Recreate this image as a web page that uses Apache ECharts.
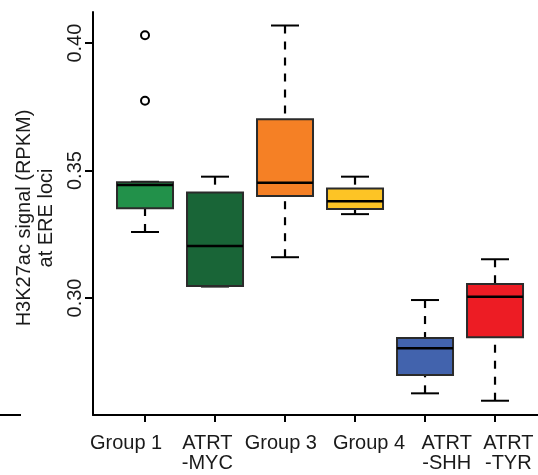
<!DOCTYPE html>
<html>
<head>
<meta charset="utf-8">
<script src="https://cdn.jsdelivr.net/npm/echarts@6/dist/echarts.min.js"></script>
<style>
  html, body { margin: 0; padding: 0; background: #fff; }
  #chart { width: 538px; height: 475px; }
</style>
</head>
<body>
<div id="chart"></div>
<script>
// Groups along the x axis
const groups = ['Group 1', 'ATRT\n-MYC', 'Group 3', 'Group 4', 'ATRT\n-SHH', 'ATRT\n-TYR'];

// Box statistics per group (H3K27ac RPKM at ERE loci)
const lowWhisker  = [0.3259, 0.3045, 0.3160, 0.3329, 0.2626, 0.2597];
const q1          = [0.3352, 0.3047, 0.3400, 0.3349, 0.2698, 0.2846];
const median      = [0.3443, 0.3204, 0.3452, 0.3380, 0.2803, 0.3005];
const q3          = [0.3454, 0.3414, 0.3701, 0.3430, 0.2843, 0.3055];
const highWhisker = [0.3456, 0.3476, 0.4069, 0.3476, 0.2992, 0.3152];

// Outliers: group index and value
const outlierGroup = [0, 0];
const outlierValue = [0.4031, 0.3774];

// Y tick labels
const yTicks = [0.30, 0.35, 0.40];

// Styling
const fills = ['#22914a', '#196537', '#f58025', '#fdc425', '#4263ad', '#ed1c24'];
const labelNudge = [-0.27, -0.11, -0.06, 0.20, 0.31, 0.19];
const FONT = '"Liberation Sans", Arial, Helvetica, sans-serif';
const TEXT = '#1a1a1a';

const boxData = groups.map((g, i) => [i, lowWhisker[i], q1[i], median[i], q3[i], highWhisker[i]]);
const outlierData = outlierGroup.map((g, i) => [g, outlierValue[i]]);

const chart = echarts.init(document.getElementById('chart'), null, { renderer: 'canvas' });

chart.setOption({
  animation: false,
  backgroundColor: '#fff',
  grid: { left: 93, right: 0, top: 12, bottom: 60, outerBoundsMode: 'none', containLabel: false },
  xAxis: {
    type: 'value',
    min: -0.743,
    max: 5.614,
    splitLine: { show: false },
    axisLine: { show: true, onZero: false, lineStyle: { color: '#000', width: 2 } },
    axisTick: {
      show: true, length: 7,
      customValues: groups.map((g, i) => i),
      lineStyle: { color: '#000', width: 2 }
    },
    axisLabel: {
      customValues: groups.map((g, i) => i + labelNudge[i]),
      formatter: v => groups[Math.round(v)],
      fontFamily: FONT, fontSize: 20, color: TEXT,
      lineHeight: 19.5, margin: 19, align: 'center'
    }
  },
  yAxis: {
    type: 'value',
    min: 0.2541,
    max: 0.4122,
    splitLine: { show: false },
    axisLine: { show: true, onZero: false, lineStyle: { color: '#000', width: 2 } },
    axisTick: { show: true, length: 8, customValues: yTicks, lineStyle: { color: '#000', width: 2 } },
    axisLabel: {
      customValues: yTicks,
      rotate: 90,
      formatter: v => v.toFixed(2),
      fontFamily: FONT, fontSize: 20, color: TEXT, margin: 8
    },
    name: 'H3K27ac signal (RPKM)\nat ERE loci',
    nameLocation: 'middle',
    nameRotate: 90,
    nameGap: 32,
    nameTextStyle: { fontFamily: FONT, fontSize: 20, lineHeight: 22, color: TEXT, padding: [0, 9, 0, 0] }
  },
  series: [
    {
      type: 'custom',
      data: boxData,
      encode: { x: 0, y: [1, 2, 3, 4, 5] },
      renderItem: function (params, api) {
        const x = api.value(0);
        const lo = api.coord([x, api.value(1)]);
        const b = api.coord([x, api.value(2)]);
        const m = api.coord([x, api.value(3)]);
        const t = api.coord([x, api.value(4)]);
        const hi = api.coord([x, api.value(5)]);
        const half = api.size([0.4, 0])[0];
        const cap = api.size([0.2, 0])[0];
        const cx = lo[0];
        // whiskers are dashed, starting from the cap towards the box
        const dash = { stroke: '#000', lineWidth: 2.2, lineDash: [8, 8] };
        const solid = { stroke: '#000', lineWidth: 2 };
        return {
          type: 'group',
          children: [
            { type: 'line', shape: { x1: cx, y1: hi[1], x2: cx, y2: t[1] }, style: dash },
            { type: 'line', shape: { x1: cx, y1: lo[1], x2: cx, y2: b[1] }, style: dash },
            { type: 'line', shape: { x1: cx - cap, y1: hi[1], x2: cx + cap, y2: hi[1] }, style: solid },
            { type: 'line', shape: { x1: cx - cap, y1: lo[1], x2: cx + cap, y2: lo[1] }, style: solid },
            {
              type: 'rect',
              shape: { x: cx - half, y: t[1], width: 2 * half, height: b[1] - t[1] },
              style: { fill: fills[params.dataIndex], stroke: '#2b2b2b', lineWidth: 2 }
            },
            { type: 'line', shape: { x1: cx - half, y1: m[1], x2: cx + half, y2: m[1] }, style: { stroke: '#000', lineWidth: 2.5 } }
          ]
        };
      }
    },
    {
      type: 'scatter',
      data: outlierData,
      symbol: 'circle',
      symbolSize: 8,
      itemStyle: { color: '#fff', borderColor: '#000', borderWidth: 2, opacity: 1 }
    }
  ],
  graphic: [
    { type: 'line', shape: { x1: 0, y1: 415, x2: 21, y2: 415 }, style: { stroke: '#000', lineWidth: 2 } }
  ]
});
</script>
</body>
</html>
